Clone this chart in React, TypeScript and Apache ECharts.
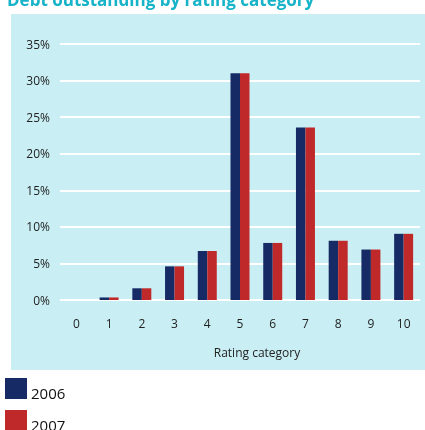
import React, { useEffect, useRef } from "react";
import * as echarts from "echarts";

const categories = ["0", "1", "2", "3", "4", "5", "6", "7", "8", "9", "10"];
const values2006 = [0, 0.35, 1.6, 4.6, 6.7, 31.0, 7.8, 23.6, 8.1, 6.9, 9.05];
const values2007 = [0, 0.35, 1.6, 4.6, 6.7, 31.0, 7.8, 23.6, 8.1, 6.9, 9.05];
const seriesNames = ["2006", "2007"];
const colors = ["#162b66", "#c0292a"];

const FONT = "'Open Sans', 'Noto Sans', sans-serif";

export default function App() {
  const ref = useRef<HTMLDivElement>(null);
  useEffect(() => {
    if (!ref.current) return;
    const chart = echarts.init(ref.current, undefined, { renderer: "svg" });
    const legendGraphics: any[] = [];
    seriesNames.forEach((name, i) => {
      const top = 378 + i * 32;
      legendGraphics.push({
        type: "rect",
        shape: { x: 5, y: top, width: 22, height: 21 },
        style: { fill: colors[i] },
        silent: true,
      });
      legendGraphics.push({
        type: "text",
        x: 31,
        y: top + 15,
        style: {
          text: name,
          fill: "#111111",
          font: `15px ${FONT}`,
          verticalAlign: "middle",
        },
      });
    });
    chart.setOption({
      animation: false,
      textStyle: { fontFamily: FONT },
      graphic: [
        {
          type: "rect",
          z: -10,
          shape: { x: 11, y: 14, width: 414, height: 356 },
          style: { fill: "#c9eff4" },
          silent: true,
        },
        {
          type: "text",
          x: 7,
          y: 8,
          style: {
            text: "Debt outstanding by rating category",
            fill: "#17b3c8",
            font: `bold 17px ${FONT}`,
            verticalAlign: "bottom",
          },
        },
        {
          type: "text",
          x: 257,
          y: 352,
          style: {
            text: "Rating category",
            fill: "#222222",
            font: `12px ${FONT}`,
            align: "center",
            verticalAlign: "middle",
          },
        },
        ...legendGraphics,
      ],
      grid: { left: 60, right: 5, top: 44, bottom: 130, containLabel: false },
      xAxis: {
        type: "category",
        data: categories,
        axisLine: { show: false },
        axisTick: { show: false },
        axisLabel: { color: "#222222", fontSize: 12, margin: 17, fontFamily: FONT },
      },
      yAxis: {
        type: "value",
        min: 0,
        max: 35,
        interval: 5,
        axisLine: { show: false },
        axisTick: { show: false },
        axisLabel: {
          formatter: "{value}%",
          color: "#222222",
          fontSize: 12,
          margin: 10,
          fontFamily: FONT,
        },
        splitLine: { lineStyle: { color: "#ffffff", width: 2 } },
      },
      series: [
        {
          name: seriesNames[0],
          type: "bar",
          data: values2006,
          barWidth: 9.5,
          barGap: "0%",
          itemStyle: { color: colors[0] },
        },
        {
          name: seriesNames[1],
          type: "bar",
          data: values2007,
          barWidth: 9.5,
          barGap: "0%",
          itemStyle: { color: colors[1] },
        },
      ],
    });
    return () => chart.dispose();
  }, []);
  return (
    <div
      ref={ref}
      style={{ position: "fixed", left: 0, top: 0, width: 425, height: 430 }}
    />
  );
}
